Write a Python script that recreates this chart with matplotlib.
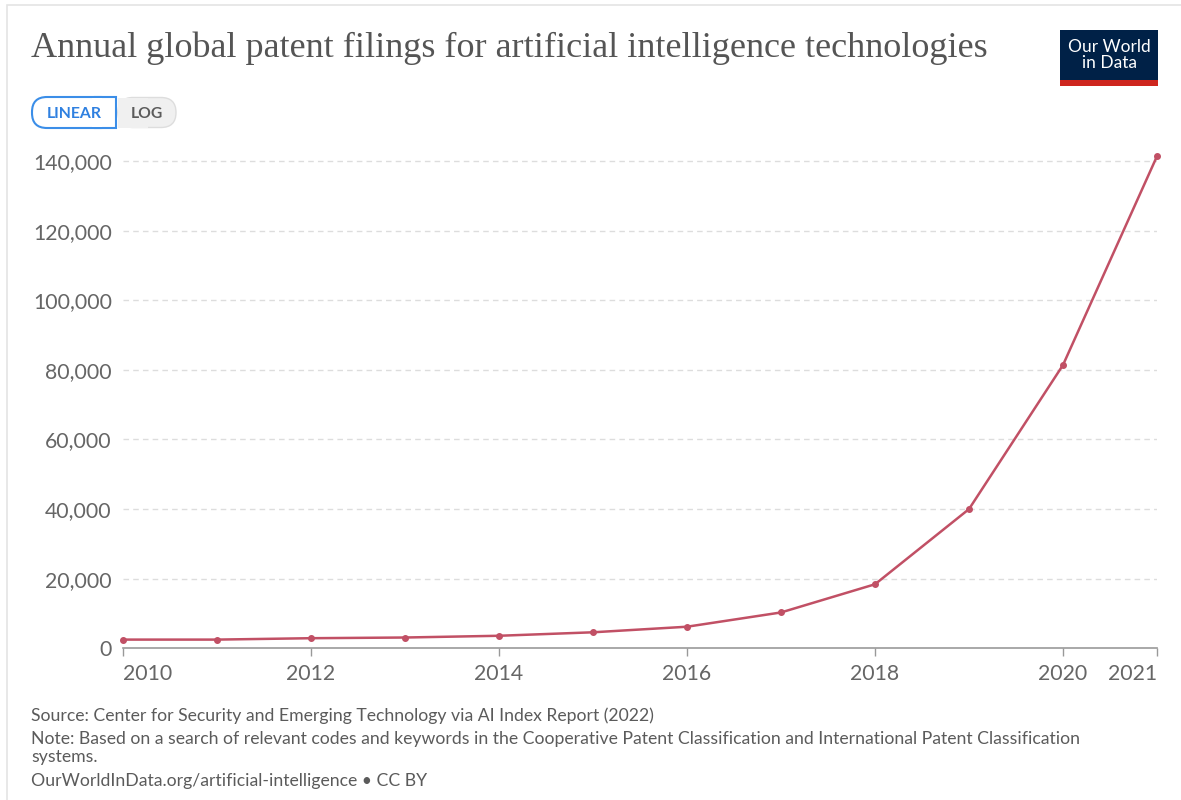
import matplotlib
matplotlib.use("Agg")
import matplotlib.pyplot as plt
from matplotlib.patches import FancyBboxPatch, Rectangle
from matplotlib.ticker import FuncFormatter

# data
years = [2010, 2011, 2012, 2013, 2014, 2015, 2016, 2017, 2018, 2019, 2020, 2021]
filings = [2500, 2500, 2900, 3100, 3600, 4600, 6200, 10300, 18400, 40000, 81400, 141400]
xticks = [2010, 2012, 2014, 2016, 2018, 2020, 2021]
yticks = [0, 20000, 40000, 60000, 80000, 100000, 120000, 140000]

TITLE = "Annual global patent filings for artificial intelligence technologies"
SOURCE = "Source: Center for Security and Emerging Technology via AI Index Report (2022)"
NOTE = ("Note: Based on a search of relevant codes and keywords in the Cooperative Patent Classification "
        "and International Patent Classification")
NOTE2 = "systems."
URL = "OurWorldInData.org/artificial-intelligence \u2022 CC BY"

W, H = 1181, 800
LINE_COLOR = "#c15065"
GREY = "#666666"
SANS = ["Lato", "DejaVu Sans"]

fig = plt.figure(figsize=(W / 100, H / 100), dpi=100)

# overlay in pixel coords for the card, title, buttons, logo, footer
bg = fig.add_axes([0, 0, 1, 1], zorder=0)
bg.set_xlim(0, W)
bg.set_ylim(H, 0)
bg.axis("off")
bg.add_patch(Rectangle((7, 5), W + 20, H + 20, facecolor="white", edgecolor="#e4e4e4", lw=1.2))

bg.text(31, 48, TITLE, family=["Liberation Serif", "DejaVu Serif"], fontsize=26,
        color="#555555", va="center", ha="left")

# LINEAR / LOG toggle
bg.add_patch(FancyBboxPatch((118, 97.5), 58, 30, boxstyle="round,pad=0,rounding_size=15",
                            facecolor="#f0f0f0", edgecolor="#dddddd", lw=1))
bg.add_patch(Rectangle((118, 97.5), 30, 30, facecolor="#f0f0f0", edgecolor="none"))
bg.add_patch(FancyBboxPatch((32, 97), 84, 31, boxstyle="round,pad=0,rounding_size=15",
                            facecolor="white", edgecolor="#3b8ee8", lw=1.5))
bg.add_patch(Rectangle((95, 97), 21, 31, facecolor="white", edgecolor="#3b8ee8", lw=1.5))
bg.add_patch(Rectangle((92, 98), 10, 29, facecolor="white", edgecolor="none"))
bg.text(74, 114, "LINEAR", family=SANS, fontsize=11.3, fontweight="bold", color="#2f80e0",
        ha="center", va="center")
bg.text(147, 114, "LOG", family=SANS, fontsize=11.3, fontweight="bold", color="#5b5b5b",
        ha="center", va="center")

# logo
bg.add_patch(Rectangle((1060, 30), 98, 50, facecolor="#002147", edgecolor="none"))
bg.add_patch(Rectangle((1060, 80), 98, 6, facecolor="#ce261e", edgecolor="none"))
bg.text(1109, 55, "Our World\nin Data", family=SANS, fontsize=12.5, color="white",
        ha="center", va="center", linespacing=0.95)

# footer
for txt, yy in [(SOURCE, 716), (NOTE, 739), (NOTE2, 757), (URL, 781)]:
    bg.text(31, yy, txt, family=SANS, fontsize=12.7, color="#5b5b5b", va="center")

# chart area
left, right = 123 / W, 1157 / W
bottom, top = 1 - 648.3 / H, 1 - 156.2 / H
ax = fig.add_axes([left, bottom, right - left, top - bottom], zorder=1)
ax.patch.set_alpha(0)

ax.plot(years, filings, color=LINE_COLOR, lw=1.8, marker="o", markersize=4,
        clip_on=False, zorder=3)

ax.set_xlim(2010, 2021)
ax.set_ylim(0, max(filings))
ax.set_yticks(yticks)
ax.set_xticks(xticks)
ax.yaxis.set_major_formatter(FuncFormatter(lambda v, _: f"{int(v):,}"))

for y in yticks[1:]:
    ax.axhline(y, color="#dddddd", lw=1, ls=(0, (4, 3)), zorder=1)

for s in ["top", "right", "left"]:
    ax.spines[s].set_visible(False)
ax.spines["bottom"].set_color("#999999")
ax.spines["bottom"].set_linewidth(1.2)

ax.tick_params(axis="y", length=0, pad=8, labelsize=15.3, labelcolor=GREY)
ax.tick_params(axis="x", length=6, width=1, color="#999999", pad=5, labelsize=15.3,
               labelcolor=GREY)
for lab in ax.get_yticklabels() + ax.get_xticklabels():
    lab.set_family(SANS)
xl = ax.get_xticklabels()
xl[0].set_ha("left")
xl[-1].set_ha("right")

fig.savefig("out.png", dpi=100, facecolor="white")
